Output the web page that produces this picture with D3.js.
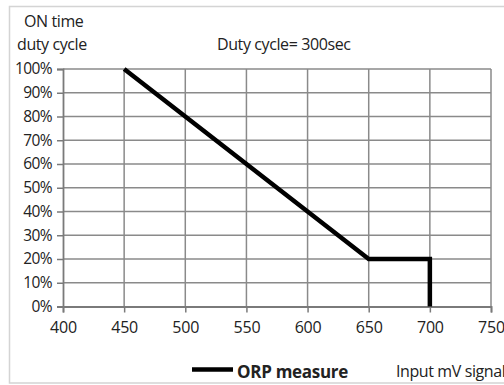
<!DOCTYPE html>
<html>
<head>
<meta charset="utf-8">
<script src="https://cdn.jsdelivr.net/npm/d3@7"></script>
<style>
  html, body { margin: 0; padding: 0; background: #fff; overflow: hidden; }
  svg { display: block; font-family: "Open Sans", "Noto Sans", sans-serif; }
</style>
</head>
<body>
<svg id="chart" width="504" height="385"></svg>
<script>
// Duty-cycle curve for the ORP controller
const inputMv = [450, 650, 700, 700];
const dutyPct = [100, 20, 20, 0];
const xTicks = [400, 450, 500, 550, 600, 650, 700, 750];
const yTicks = [0, 10, 20, 30, 40, 50, 60, 70, 80, 90, 100];
const seriesName = "ORP measure";

const svg = d3.select("#chart");
const m = { left: 63, right: 491, top: 69, bottom: 306.5 };

// outer frame: left, top and bottom edges (right edge runs past the page)
svg.append("path")
  .attr("d", "M520,6.5 H9.5 V383 H520")
  .attr("fill", "none").attr("stroke", "#d4d4d4").attr("stroke-width", 1.5);

const x = d3.scaleLinear().domain([400, 750]).range([m.left, m.right]);
const y = d3.scaleLinear().domain([0, 100]).range([m.bottom, m.top]);

// grid
const grid = svg.append("g");
grid.selectAll("line.h").data(yTicks.slice(1)).join("line")
  .attr("x1", m.left).attr("x2", m.right)
  .attr("y1", d => y(d)).attr("y2", d => y(d))
  .attr("stroke", "#8a8a8a").attr("stroke-width", 1.5);
grid.selectAll("line.v").data(xTicks.slice(1)).join("line")
  .attr("x1", d => x(d)).attr("x2", d => x(d))
  .attr("y1", m.top).attr("y2", m.bottom)
  .attr("stroke", "#8a8a8a").attr("stroke-width", 1.5);

// axes
const xAxis = svg.append("g")
  .attr("transform", `translate(0,${m.bottom})`)
  .call(d3.axisBottom(x).tickValues(xTicks).tickSize(6).tickPadding(9).tickFormat(d3.format("d")));
const yAxis = svg.append("g")
  .attr("transform", `translate(${m.left},0)`)
  .call(d3.axisLeft(y).tickValues(yTicks).tickSize(6).tickPadding(5).tickFormat(d => d + "%"));
[xAxis, yAxis].forEach(a => {
  a.select(".domain").attr("stroke", "#7a7a7a").attr("stroke-width", 1.8);
  a.selectAll(".tick line").attr("stroke", "#7a7a7a").attr("stroke-width", 1.5);
  a.selectAll("text").attr("fill", "#222")
    .attr("font-family", "\"Open Sans\", sans-serif");
});
yAxis.selectAll("text").attr("font-size", 15.5).attr("letter-spacing", -0.6);
xAxis.selectAll("text").attr("font-size", 16).attr("letter-spacing", -0.2).attr("dy", "0.71em");

// data line
const line = d3.line().x((d, i) => x(inputMv[i])).y((d, i) => y(dutyPct[i]));
svg.append("path")
  .datum(inputMv)
  .attr("d", line)
  .attr("fill", "none").attr("stroke", "#000").attr("stroke-width", 4.5)
  .attr("stroke-linejoin", "miter");

// labels
const txt = (s, tx, ty, opts = {}) => svg.append("text")
  .attr("x", tx).attr("y", ty)
  .attr("font-size", opts.size || 16)
  .attr("font-weight", opts.weight || "normal")
  .attr("letter-spacing", opts.ls != null ? opts.ls : -0.4)
  .attr("fill", "#222")
  .text(s);
txt("ON time", 24, 27);
txt("duty cycle", 17, 50);
txt("Duty cycle= 300sec", 217, 50);
txt("Input mV signal", 396, 377, { size: 16 });

// legend
svg.append("line")
  .attr("x1", 192).attr("x2", 233).attr("y1", 369.5).attr("y2", 369.5)
  .attr("stroke", "#000").attr("stroke-width", 4.5);
txt(seriesName, 237, 377.5, { size: 17, weight: "bold", ls: -0.3 });
</script>
</body>
</html>
